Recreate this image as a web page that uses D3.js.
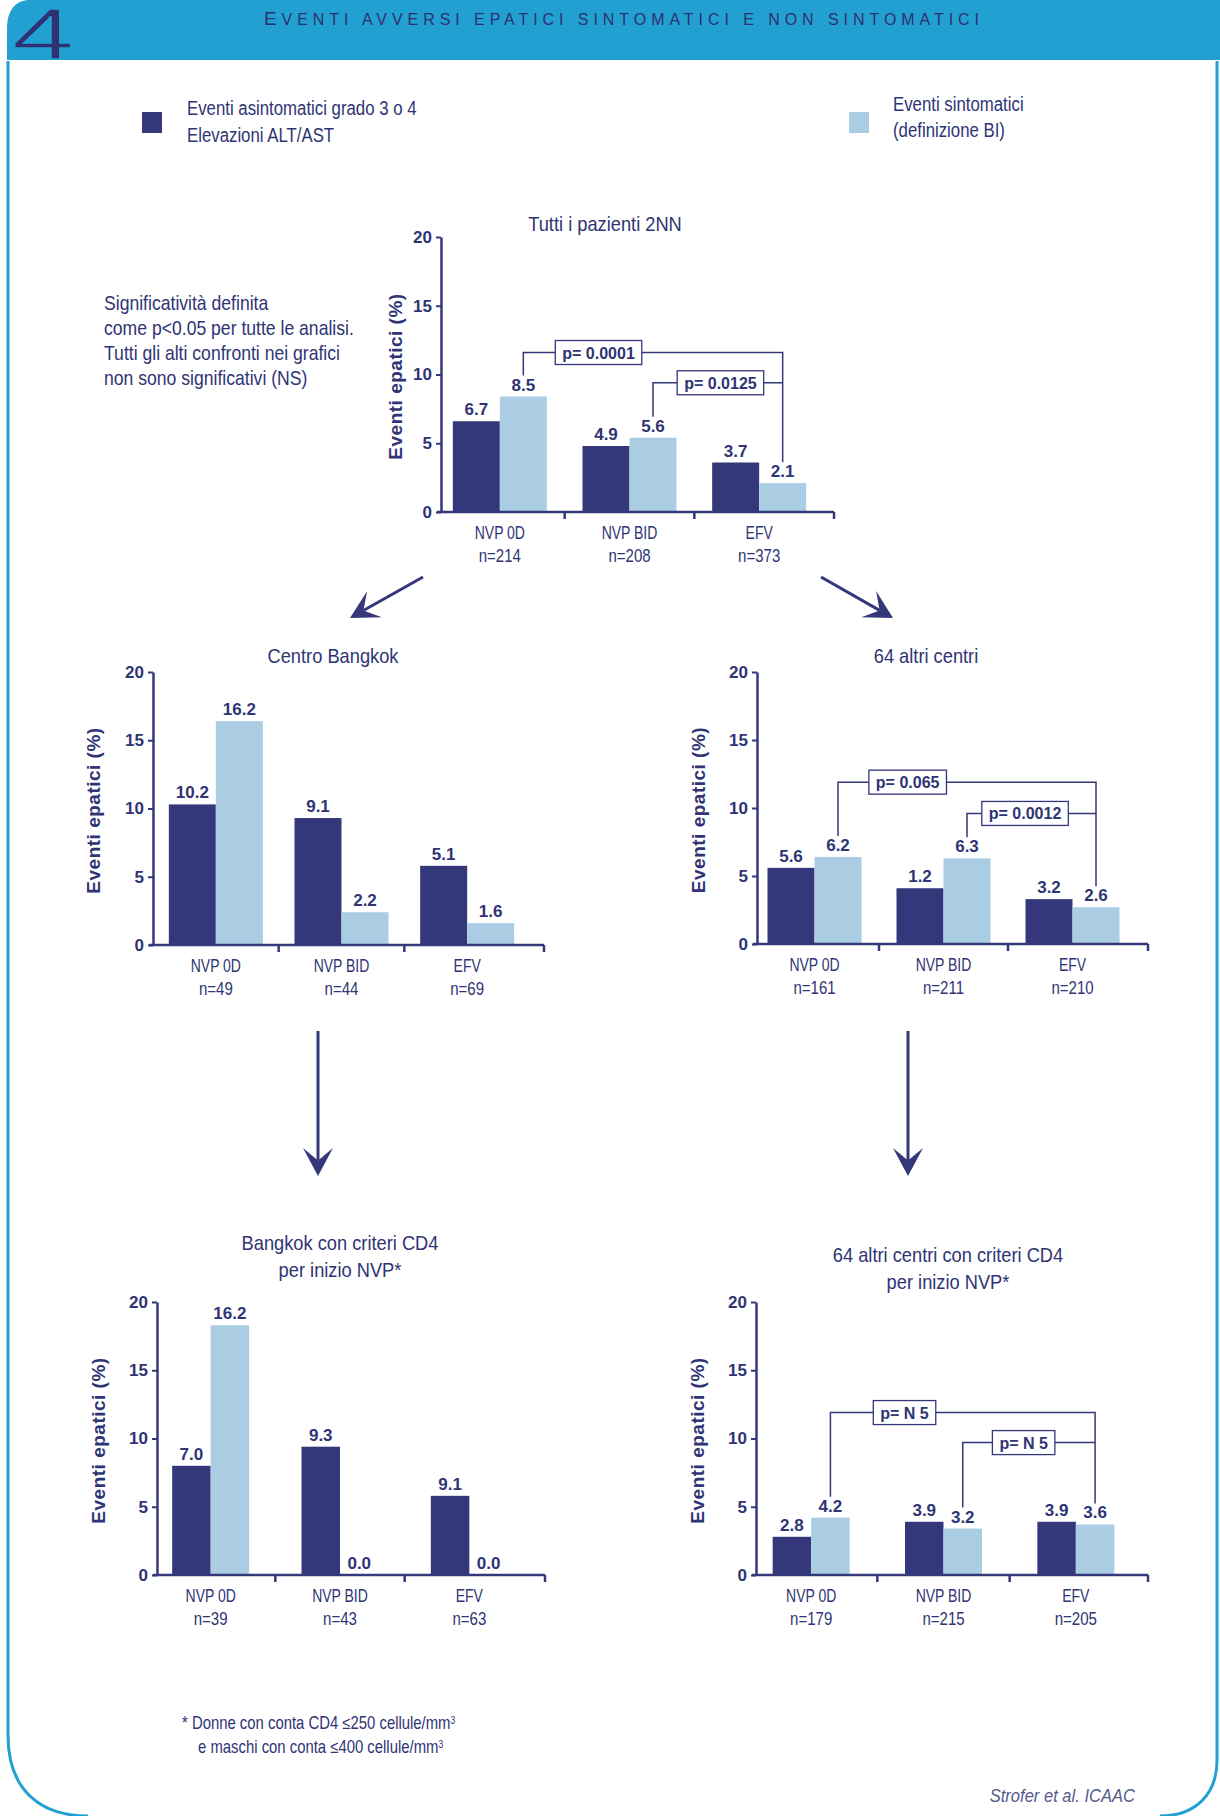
<!DOCTYPE html>
<html>
<head>
<meta charset="utf-8">
<script src="https://cdn.jsdelivr.net/npm/d3@7"></script>
<style>
  body { margin: 0; background: #fff; }
  svg { display: block; }
  text { font-family: "Liberation Sans", Arial, sans-serif; fill: #2f3474; }
</style>
</head>
<body>
<svg id="page" width="1220" height="1816"></svg>
<script>
// categorie e tick
const categories = ["NVP 0D", "NVP BID", "EFV"];
const yTicks = [0, 5, 10, 15, 20];
const headTitle = "Eventi avversi epatici sintomatici e non sintomatici";
const legendAsint = ["Eventi asintomatici grado 3 o 4", "Elevazioni ALT/AST"];
const legendSint = ["Eventi sintomatici", "(definizione BI)"];
const noteLines = ["Significatività definita", "come p<0.05 per tutte le analisi.",
                   "Tutti gli alti confronti nei grafici", "non sono significativi (NS)"];

// Tutti i pazienti 2NN
const tuttiN = ["n=214", "n=208", "n=373"];
const tuttiAsint = [6.6, 4.8, 3.6];
const tuttiSint = [8.4, 5.4, 2.1];
const tuttiAsintLab = ["6.7", "4.9", "3.7"];
const tuttiSintLab = ["8.5", "5.6", "2.1"];
const tuttiP = ["p= 0.0001", "p= 0.0125"];
const tuttiPLevel = [11.6, 9.4];

// Centro Bangkok
const bkN = ["n=49", "n=44", "n=69"];
const bkAsint = [10.3, 9.3, 5.8];
const bkSint = [16.4, 2.4, 1.6];
const bkAsintLab = ["10.2", "9.1", "5.1"];
const bkSintLab = ["16.2", "2.2", "1.6"];

// 64 altri centri
const altriN = ["n=161", "n=211", "n=210"];
const altriAsint = [5.6, 4.1, 3.3];
const altriSint = [6.4, 6.3, 2.7];
const altriAsintLab = ["5.6", "1.2", "3.2"];
const altriSintLab = ["6.2", "6.3", "2.6"];
const altriP = ["p= 0.065", "p= 0.0012"];
const altriPLevel = [11.9, 9.6];

// Bangkok con criteri CD4
const bkCd4N = ["n=39", "n=43", "n=63"];
const bkCd4Asint = [8.0, 9.4, 5.8];
const bkCd4Sint = [18.3, 0, 0];
const bkCd4AsintLab = ["7.0", "9.3", "9.1"];
const bkCd4SintLab = ["16.2", "0.0", "0.0"];

// 64 altri centri con criteri CD4
const altriCd4N = ["n=179", "n=215", "n=205"];
const altriCd4Asint = [2.8, 3.9, 3.9];
const altriCd4Sint = [4.2, 3.4, 3.7];
const altriCd4AsintLab = ["2.8", "3.9", "3.9"];
const altriCd4SintLab = ["4.2", "3.2", "3.6"];
const altriCd4P = ["p= N 5", "p= N 5"];
const altriCd4PLevel = [11.9, 9.7];

const navy = "#34387a";
const light = "#abcde4";
const cyan = "#22a0d2";
const colors = [navy, light];
const COND = 0.8;   // testo "condensed"

const svg = d3.select("#page");

function label(g, x, y, str, o) {
  o = o || {};
  const t = g.append("text")
    .attr("transform", `translate(${x},${y}) scale(${o.sx || 1},1)`)
    .attr("text-anchor", o.anchor || "start")
    .style("font-size", (o.size || 17) + "px")
    .text(str);
  if (o.bold) t.style("font-weight", "bold");
  if (o.italic) t.style("font-style", "italic");
  if (o.fill) t.style("fill", o.fill);
  return t;
}

// cornice e testata
svg.append("path")
  .attr("d", "M8,61 V1735 C8,1790 40,1816 88,1816")
  .attr("fill", "none").attr("stroke", cyan).attr("stroke-width", 3);
svg.append("path")
  .attr("d", "M1217,61 V1760 C1217,1795 1195,1816 1160,1816")
  .attr("fill", "none").attr("stroke", cyan).attr("stroke-width", 3);
svg.append("path")
  .attr("d", "M30,0 H1220 V60 H7 V28 C7,10 16,0 30,0 Z")
  .attr("fill", cyan);

// numero di sezione, assottigliato con un contorno del colore della testata
svg.append("text")
  .attr("transform", "translate(12,59) scale(1.55,1)")
  .style("font-size", "72px")
  .style("fill", "#2f3272")
  .style("stroke", cyan).style("stroke-width", 1.3)
  .text("4");

// titolo in maiuscoletto
const ht = svg.append("text")
  .attr("x", 264).attr("y", 25)
  .attr("textLength", 715).attr("lengthAdjust", "spacing")
  .style("fill", "#2d3170");
ht.append("tspan").style("font-size", "19px").text(headTitle[0].toUpperCase());
ht.append("tspan").style("font-size", "16px").text(headTitle.slice(1).toUpperCase());

// legenda
svg.append("rect").attr("x", 142).attr("y", 112).attr("width", 20).attr("height", 21).attr("fill", navy);
svg.append("rect").attr("x", 849).attr("y", 112).attr("width", 20).attr("height", 21).attr("fill", light);
legendAsint.forEach((s, i) => label(svg, 187, 115 + i * 27, s, {size: 21, sx: COND}));
legendSint.forEach((s, i) => label(svg, 893, 111 + i * 26, s, {size: 21, sx: COND}));

// nota significatività
noteLines.forEach((s, i) => label(svg, 104, 310 + i * 25, s, {size: 20, sx: 0.88}));

// frecce
const arrows = [[423, 577, 350, 618], [821, 577, 893, 618], [318, 1031, 318, 1176], [908, 1031, 908, 1176]];
arrows.forEach(a => {
  const dx = a[2] - a[0], dy = a[3] - a[1];
  const len = Math.hypot(dx, dy), ux = dx / len, uy = dy / len;
  const L = 28, W = 15;
  const tip = [a[2], a[3]];
  const notch = [tip[0] - ux * L * 0.55, tip[1] - uy * L * 0.55];
  const w1 = [tip[0] - ux * L - uy * W, tip[1] - uy * L + ux * W];
  const w2 = [tip[0] - ux * L + uy * W, tip[1] - uy * L - ux * W];
  svg.append("line").attr("x1", a[0]).attr("y1", a[1]).attr("x2", notch[0]).attr("y2", notch[1])
    .attr("stroke", navy).attr("stroke-width", 3);
  svg.append("path").attr("d", "M" + [tip, w1, notch, w2].join("L") + "Z").attr("fill", navy);
});

// grafici
const charts = [
  {title: ["Tutti i pazienti 2NN"], n: tuttiN, asint: tuttiAsint, sint: tuttiSint,
   asintLab: tuttiAsintLab, sintLab: tuttiSintLab, p: tuttiP, pLevel: tuttiPLevel, pPos: [0.29, 0.52],
   ax: 441, top: 237, zero: 512, xEnd: 834, band: [435, 824], barW: 47, titleX: 605, titleY: [231], yTitleDx: 46},
  {title: ["Centro Bangkok"], n: bkN, asint: bkAsint, sint: bkSint,
   asintLab: bkAsintLab, sintLab: bkSintLab,
   ax: 153, top: 672, zero: 945, xEnd: 544, band: [153, 530], barW: 47, titleX: 333, titleY: [663], yTitleDx: 60},
  {title: ["64 altri centri"], n: altriN, asint: altriAsint, sint: altriSint,
   asintLab: altriAsintLab, sintLab: altriSintLab, p: altriP, pLevel: altriPLevel, pPos: [0.27, 0.45],
   ax: 757, top: 672, zero: 944, xEnd: 1148, band: [750, 1137], barW: 47, titleX: 926, titleY: [663], yTitleDx: 59},
  {title: ["Bangkok con criteri CD4", "per inizio NVP*"], n: bkCd4N, asint: bkCd4Asint, sint: bkCd4Sint,
   asintLab: bkCd4AsintLab, sintLab: bkCd4SintLab,
   ax: 157, top: 1302, zero: 1575, xEnd: 545, band: [146, 534], barW: 38.5, titleX: 340, titleY: [1250, 1277], yTitleDx: 59},
  {title: ["64 altri centri con criteri CD4", "per inizio NVP*"], n: altriCd4N, asint: altriCd4Asint, sint: altriCd4Sint,
   asintLab: altriCd4AsintLab, sintLab: altriCd4SintLab, p: altriCd4P, pLevel: altriCd4PLevel, pPos: [0.28, 0.46],
   ax: 756, top: 1302, zero: 1575, xEnd: 1148, band: [745, 1142], barW: 38.5, titleX: 948, titleY: [1262, 1289], yTitleDx: 59}
];

charts.forEach(drawChart);

function drawChart(c) {
  const g = svg.append("g");
  const y = d3.scaleLinear().domain([0, 20]).range([c.zero, c.top]);
  const x = d3.scaleBand().domain(categories).range(c.band);
  const inner = d3.scaleBand().domain([0, 1]).range([0, 2 * c.barW]);
  const bw = x.bandwidth();
  const centre = cat => x(cat) + bw / 2;

  // titolo
  c.title.forEach((s, i) => label(g, c.titleX, c.titleY[i], s, {size: 21, sx: 0.87, anchor: "middle"}));

  // barre
  const rows = categories.map((cat, i) => ({
    cat: cat,
    vals: [c.asint[i], c.sint[i]].map((v, k) => ({v: v, k: k, lab: k ? c.sintLab[i] : c.asintLab[i]}))
  }));
  const grp = g.selectAll("g.grp").data(rows).join("g")
    .attr("class", "grp")
    .attr("transform", d => `translate(${centre(d.cat) - c.barW},0)`);
  grp.selectAll("rect").data(d => d.vals).join("rect")
    .attr("x", d => inner(d.k))
    .attr("width", c.barW)
    .attr("y", d => y(d.v))
    .attr("height", d => c.zero - y(d.v))
    .attr("fill", d => colors[d.k]);
  grp.selectAll("text").data(d => d.vals).join("text")
    .attr("x", d => inner(d.k) + c.barW / 2)
    .attr("y", d => y(d.v) - 6)
    .attr("text-anchor", "middle")
    .style("font-size", "17px")
    .style("font-weight", "bold")
    .text(d => d.lab);

  // asse y
  const ya = g.append("g").attr("transform", `translate(${c.ax},0)`)
    .call(d3.axisLeft(y).tickValues(yTicks).tickSize(5).tickSizeOuter(0).tickPadding(4));
  ya.select(".domain").attr("stroke", navy).attr("stroke-width", 2.5);
  ya.selectAll(".tick line").attr("stroke", navy).attr("stroke-width", 2);
  ya.selectAll(".tick text")
    .style("font-family", "'Liberation Sans', Arial, sans-serif")
    .style("font-size", "17px").style("font-weight", "bold").style("fill", "#2f3474");

  g.append("text")
    .attr("transform", `translate(${c.ax - c.yTitleDx},${(c.top + c.zero) / 2 + 2}) rotate(-90)`)
    .attr("text-anchor", "middle")
    .attr("dy", "0.35em")
    .style("font-size", "19px").style("font-weight", "bold").style("letter-spacing", "0.5px")
    .text("Eventi epatici (%)");

  // asse x
  g.append("line").attr("x1", c.ax - 4).attr("x2", c.xEnd).attr("y1", c.zero).attr("y2", c.zero)
    .attr("stroke", navy).attr("stroke-width", 2.5);
  const ticks = categories.slice(1).map(cat => x(cat)).concat([c.xEnd]);
  g.selectAll("line.div").data(ticks).join("line")
    .attr("class", "div")
    .attr("x1", d => d).attr("x2", d => d)
    .attr("y1", c.zero).attr("y2", c.zero + 7)
    .attr("stroke", navy).attr("stroke-width", 2.5);
  categories.forEach((cat, i) => {
    label(g, centre(cat), c.zero + 27, cat, {size: 17.5, sx: COND, anchor: "middle"});
    label(g, centre(cat), c.zero + 50, c.n[i], {size: 17.5, sx: 0.86, anchor: "middle"});
  });

  // confronti p
  if (c.p) {
    const lightX = i => centre(categories[i]) + c.barW / 2;
    const labTop = i => y(c.sint[i]) - 6 - 12 - 3;
    const x2 = lightX(2);
    c.p.forEach((ptxt, b) => {
      const x1 = lightX(b);
      const yl = y(c.pLevel[b]);
      let d = `M${x1},${labTop(b)}V${yl}H${x2}`;
      if (b === 0) d += `V${labTop(2)}`;
      g.append("path").attr("d", d).attr("fill", "none").attr("stroke", navy).attr("stroke-width", 1.5);
      const xb = x1 + c.pPos[b] * (x2 - x1);
      const box = g.append("rect").attr("fill", "#fff").attr("stroke", navy).attr("stroke-width", 1.3);
      const t = g.append("text").attr("x", xb).attr("y", yl + 6)
        .attr("text-anchor", "middle")
        .style("font-size", "16px").style("font-weight", "bold")
        .text(ptxt);
      const w = t.node().getComputedTextLength();
      box.attr("x", xb - w / 2 - 7).attr("y", yl - 12).attr("width", w + 14).attr("height", 24);
    });
  }
}

// note a piè di pagina
const f1 = label(svg, 182, 1729, "* Donne con conta CD4 \u2264250 cellule/mm", {size: 17.5, sx: 0.85});
f1.append("tspan").attr("baseline-shift", "super").style("font-size", "10px").text("3");
const f2 = label(svg, 198, 1753, "e maschi con conta \u2264400 cellule/mm", {size: 17.5, sx: 0.85});
f2.append("tspan").attr("baseline-shift", "super").style("font-size", "10px").text("3");
label(svg, 1135, 1802, "Strofer et al. ICAAC", {size: 18, sx: 0.92, anchor: "end", italic: true, fill: "#555a8c"});
</script>
</body>
</html>
